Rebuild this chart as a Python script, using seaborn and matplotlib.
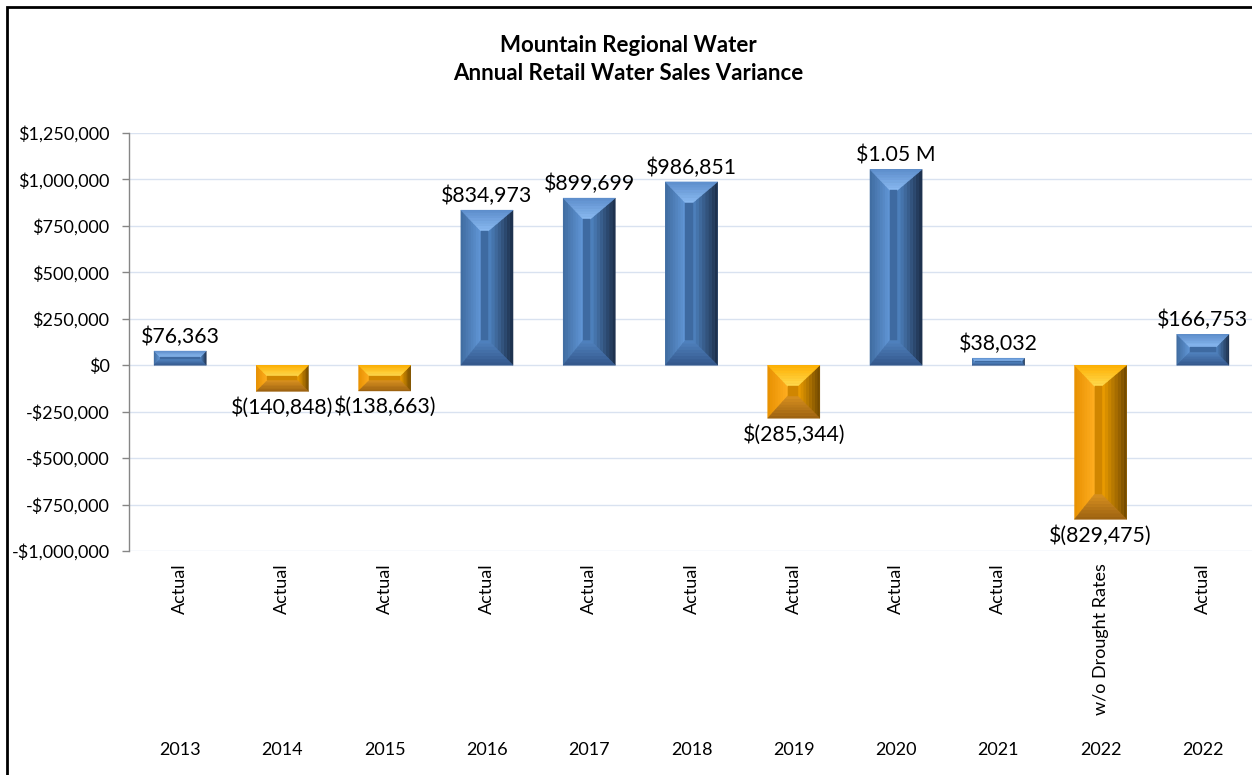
import numpy as np
import pandas as pd
import matplotlib.pyplot as plt
import matplotlib.transforms as mtransforms
from matplotlib.patches import Polygon, Rectangle
import seaborn as sns

years = ["2013", "2014", "2015", "2016", "2017", "2018", "2019", "2020", "2021", "2022", "2022"]
scenarios = ["Actual"] * 9 + ["w/o Drought Rates", "Actual"]
variance = [76363, -140848, -138663, 834973, 899699, 986851, -285344, 1054000, 38032, -829475, 166753]
y_ticks = [-1000000, -750000, -500000, -250000, 0, 250000, 500000, 750000, 1000000, 1250000]

# (outer edge colour, inner edge colour) for every bevel face
BLUE = {"base": "#4F81BD", "inner": "#3E6AA1",
        "left": ("#3F6B9F", "#6197D8"), "right": ("#1B2D47", "#4F84C3"),
        "top": ("#5C8DCC", "#8BBBF2"), "bottom": ("#33568A", "#5083C0")}
ORANGE = {"base": "#FFA500", "inner": "#D08600",
          "left": ("#E89000", "#FFAE20"), "right": ("#6E4600", "#F0A000"),
          "top": ("#FFB000", "#FFDB50"), "bottom": ("#9A6010", "#D89020")}


def fmt_label(v):
    if abs(v) >= 1e6:
        return f"${v / 1e6:.2f} M"
    if v < 0:
        return f"$({-v:,.0f})"
    return f"${v:,.0f}"


def fmt_tick(v, pos=None):
    if v < 0:
        return f"-${-v:,.0f}"
    return f"${v:,.0f}"


def mix(c0, c1, t):
    a = np.array(plt.matplotlib.colors.to_rgb(c0))
    b = np.array(plt.matplotlib.colors.to_rgb(c1))
    return tuple(a + (b - a) * t)


def bevel(ax, patch, shades):
    # work in pixels so the bevel keeps the same look on every bar
    x0, y0 = patch.get_x(), patch.get_y()
    w, h = patch.get_width(), patch.get_height()
    (px0, py0), (px1, py1) = ax.transData.transform([(x0, min(y0, y0 + h)), (x0 + w, max(y0, y0 + h))])
    H = py1 - py0
    dl = min(20, 0.42 * H)
    dr = min(25, 0.42 * H)
    dt = min(21, 0.42 * H)
    db = min(25, 0.42 * H)
    inv = ax.transData.inverted()

    def add(pts, color):
        ax.add_patch(Polygon(inv.transform(np.array(pts)), closed=True, facecolor=color,
                             edgecolor=color, lw=0.3, zorder=3))

    def face(o0, o1, i0, i1, cols, n=8):
        o0, o1, i0, i1 = map(np.array, (o0, o1, i0, i1))
        for k in range(n):
            t0, t1 = k / n, (k + 1) / n
            pts = [o0 + (i0 - o0) * t0, o0 + (i0 - o0) * t1,
                   o1 + (i1 - o1) * t1, o1 + (i1 - o1) * t0]
            add(pts, mix(cols[0], cols[1], (k + 0.5) / n))

    it, ib = py1 - dt, py0 + db
    il, ir = px0 + dl, px1 - dr
    face((px0, py0), (px0, py1), (il, ib), (il, it), shades["left"])
    face((px1, py0), (px1, py1), (ir, ib), (ir, it), shades["right"])
    face((px0, py1), (px1, py1), (il, it), (ir, it), shades["top"])
    face((px0, py0), (px1, py0), (il, ib), (ir, ib), shades["bottom"])
    add([(il, ib), (il, it), (ir, it), (ir, ib)], shades["inner"])


df = pd.DataFrame({
    "key": [f"{y} {s} {i}" for i, (y, s) in enumerate(zip(years, scenarios))],
    "variance": variance,
})
df["sign"] = np.where(df["variance"] >= 0, "pos", "neg")

sns.set_style("white")
plt.rcParams["font.family"] = ["Lato", "DejaVu Sans"]
plt.rcParams["text.color"] = "black"
plt.rcParams["ytick.labelcolor"] = "black"

fig = plt.figure(figsize=(12.52, 7.75), dpi=100)
ax = fig.add_axes([129 / 1252, 1 - 551 / 775, 1125 / 1252, (551 - 133) / 775])

sns.barplot(data=df, x="key", y="variance", hue="sign",
            palette={"pos": BLUE["base"], "neg": ORANGE["base"]},
            width=0.51, legend=False, ax=ax, zorder=2, linewidth=0)

ax.set_xlim(-0.5, len(df) - 0.5)
ax.set_ylim(y_ticks[0], y_ticks[-1])
ax.set_yticks(y_ticks)
ax.yaxis.set_major_formatter(plt.FuncFormatter(fmt_tick))
ax.tick_params(axis="y", labelsize=13, length=5, width=1, color="#868686", pad=9,
               left=True, direction="out", labelcolor="black")
ax.tick_params(axis="x", bottom=False, labelbottom=False)
ax.set_xlabel("")
ax.set_ylabel("")
ax.grid(axis="y", color="#D9E2F0", lw=1)
ax.set_axisbelow(True)
for side in ["top", "right", "bottom"]:
    ax.spines[side].set_visible(False)
ax.spines["left"].set_color("#868686")
ax.spines["left"].set_linewidth(1)

bars = sorted(ax.patches[:len(df)], key=lambda p: p.get_x())
for p, v in zip(bars, df["variance"]):
    bevel(ax, p, BLUE if v >= 0 else ORANGE)
    cx = p.get_x() + p.get_width() / 2
    if v >= 0:
        ax.annotate(fmt_label(v), (cx, v), xytext=(0, 3), textcoords="offset points",
                    ha="center", va="bottom", fontsize=15.3, color="black")
    else:
        ax.annotate(fmt_label(v), (cx, v), xytext=(0, -4), textcoords="offset points",
                    ha="center", va="top", fontsize=15.3, color="black")

# two-level category labels
blend = mtransforms.blended_transform_factory(ax.transData, fig.transFigure)
for i, (yr, sc) in enumerate(zip(years, scenarios)):
    ax.text(i, 1 - 563 / 775, sc, rotation=90, ha="center", va="top",
            fontsize=13, color="black", transform=blend)
    ax.text(i, 1 - 750 / 775, yr, ha="center", va="center", fontsize=13,
            color="black", transform=blend)

fig.text(0.502, 1 - 45 / 775, "Mountain Regional Water", ha="center", va="center",
         fontsize=16, fontweight="bold", color="black")
fig.text(0.502, 1 - 73 / 775, "Annual Retail Water Sales Variance", ha="center", va="center",
         fontsize=16, fontweight="bold", color="black")

fig.patches.append(Rectangle((7 / 1252, -0.05), 1.1, 1.05 - 7 / 775, transform=fig.transFigure,
                             fill=False, ec="black", lw=2))

fig.savefig("out.png", dpi=100)
